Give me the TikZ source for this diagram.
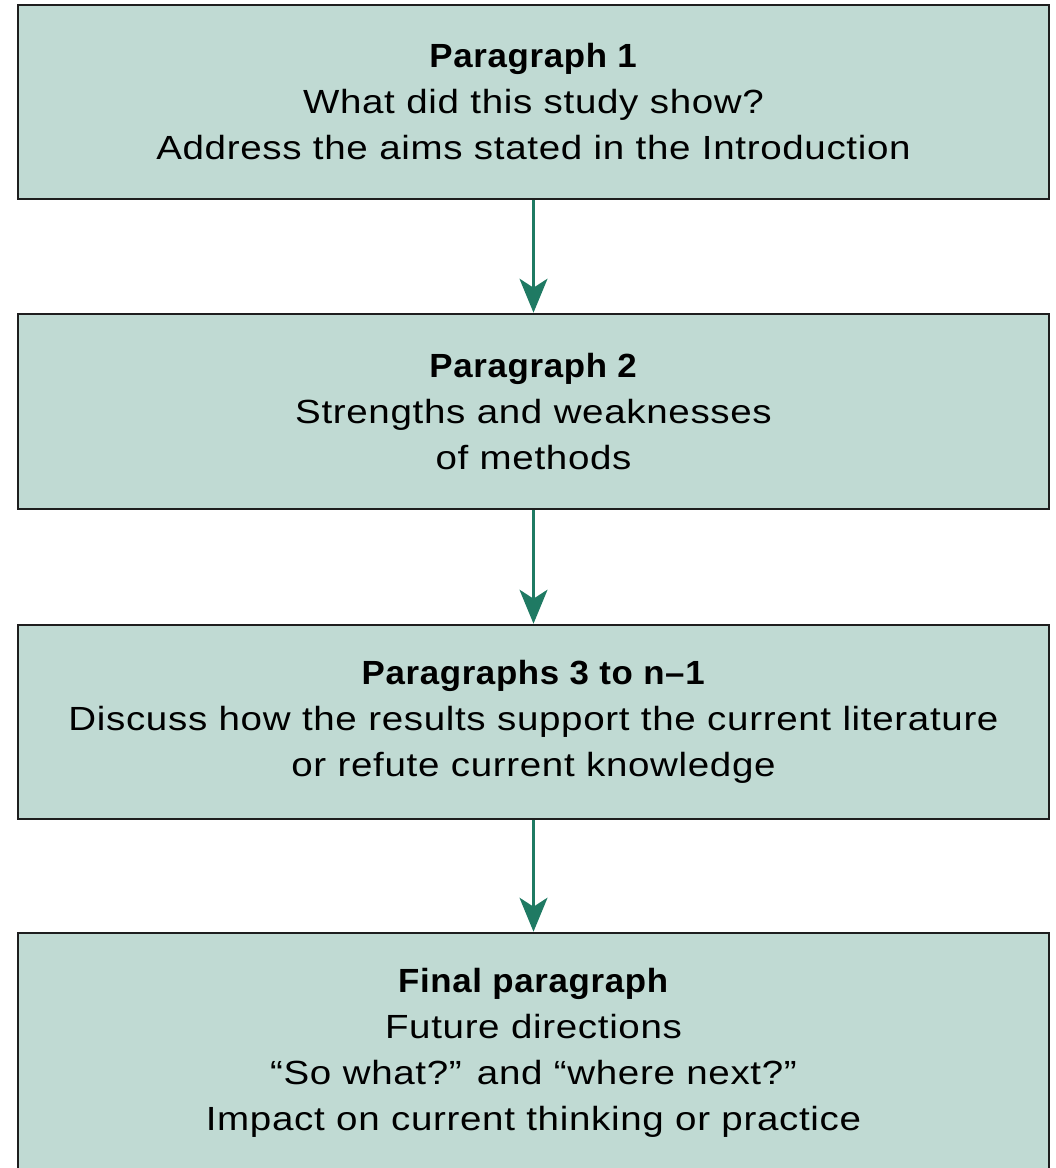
\documentclass[tikz,border=0pt]{standalone}
\usepackage{fontspec}
\setmainfont{Liberation Sans}[FakeStretch=1.15, LetterSpace=2,
  BoldFeatures={FakeStretch=1.04, LetterSpace=2}]
\usetikzlibrary{arrows.meta}
\definecolor{boxfill}{HTML}{C0DAD3}
\definecolor{boxline}{HTML}{1E1E1E}
\definecolor{arrowgreen}{HTML}{1F7A63}
\begin{document}
\begin{tikzpicture}[x=1pt,y=-1pt,
  stage/.style={draw=boxline, line width=2.6pt, fill=boxfill,
    minimum width=1031pt, minimum height=194pt, inner sep=0pt,
    align=center, font=\fontsize{33.5}{46}\selectfont},
  flow/.style={draw=arrowgreen, line width=2.6pt,
    -{Stealth[length=34pt, width=28pt, inset=9pt]}}]
\useasboundingbox (0,0) rectangle (1056,1168);
\begin{scope}
\clip (0,0) rectangle (1056,1168);
\node[stage] (p1) at (533.5,102)
  {\textbf{Paragraph 1}\\What did this study show?\\Address the aims stated in the Introduction};
\node[stage, minimum height=195pt] (p2) at (533.5,411.5)
  {\textbf{Paragraph 2}\\Strengths and weaknesses\\of methods};
\node[stage] (p3) at (533.5,722)
  {\textbf{Paragraphs 3 to n–1}\\Discuss how the results support the current literature\\or refute current knowledge};
\node[stage, minimum height=240pt] (p4) at (533.5,1053)
  {\textbf{Final paragraph}\\Future directions\\“So what?” and “where next?”\\Impact on current thinking or practice};
\end{scope}
\draw[flow] (p1.south) -- (p2.north);
\draw[flow] (p2.south) -- (p3.north);
\draw[flow] (p3.south) -- (p4.north);
\end{tikzpicture}
\end{document}
